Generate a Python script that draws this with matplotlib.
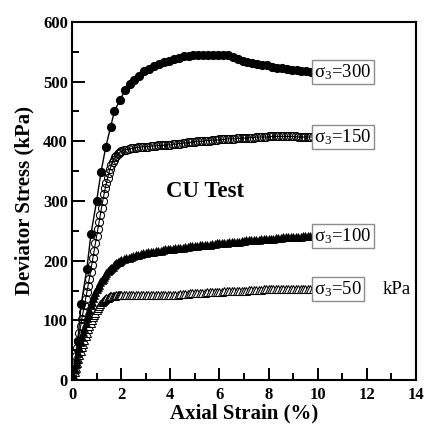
import matplotlib
matplotlib.use("Agg")
import matplotlib.pyplot as plt
from matplotlib.ticker import MultipleLocator

plt.rcParams["font.family"] = ["Liberation Serif", "DejaVu Serif"]
plt.rcParams["mathtext.fontset"] = "custom"
plt.rcParams["mathtext.rm"] = "Liberation Serif"
plt.rcParams["mathtext.it"] = "Liberation Serif:italic"
plt.rcParams["mathtext.bf"] = "Liberation Serif:bold"

# Axial strain (%) and deviator stress (kPa) for the sigma3 = 300 kPa test
strain_300 = [0.00, 0.23, 0.37, 0.60, 0.77, 1.00, 1.18, 1.37, 1.57, 1.72,
              1.95, 2.16, 2.36, 2.54, 2.74, 2.94, 3.14, 3.34, 3.54, 3.74,
              3.94, 4.14, 4.34, 4.54, 4.74, 4.94, 5.14, 5.34, 5.54, 5.74,
              5.94, 6.14, 6.34, 6.54, 6.74, 6.94, 7.14, 7.34, 7.54, 7.74,
              7.94, 8.14, 8.34, 8.54, 8.74, 8.94, 9.14, 9.34, 9.54, 9.74,
              9.85]
stress_300 = [0, 66, 127, 186, 245, 300, 349, 390, 424, 450,
              469, 486, 496, 503, 510, 517, 521, 526, 530, 533,
              535, 538, 540, 542, 543, 544, 545, 545, 545, 545,
              545, 545, 544, 541, 538, 535, 533, 531, 530, 528,
              527, 525, 523, 522, 521, 520, 519, 518, 517, 516,
              516]

# Common strain readings (%) for the other three tests
strain = [0.00, 0.05, 0.10, 0.15, 0.20, 0.25, 0.30, 0.35, 0.40, 0.45,
          0.50, 0.55, 0.60, 0.65, 0.70, 0.75, 0.80, 0.85, 0.90, 0.95,
          1.00, 1.05, 1.10, 1.15, 1.20, 1.25, 1.30, 1.35, 1.40, 1.45,
          1.50, 1.55, 1.60, 1.65, 1.70, 1.75, 1.80, 1.85, 1.90, 1.95,
          2.0, 2.1, 2.2, 2.3, 2.4, 2.5, 2.6, 2.7, 2.8, 2.9,
          3.0, 3.1, 3.2, 3.3, 3.4, 3.5, 3.6, 3.7, 3.8, 3.9,
          4.0, 4.1, 4.2, 4.3, 4.4, 4.5, 4.6, 4.7, 4.8, 4.9,
          5.0, 5.1, 5.2, 5.3, 5.4, 5.5, 5.6, 5.7, 5.8, 5.9,
          6.0, 6.1, 6.2, 6.3, 6.4, 6.5, 6.6, 6.7, 6.8, 6.9,
          7.0, 7.1, 7.2, 7.3, 7.4, 7.5, 7.6, 7.7, 7.8, 7.9,
          8.0, 8.1, 8.2, 8.3, 8.4, 8.5, 8.6, 8.7, 8.8, 8.9,
          9.0, 9.1, 9.2, 9.3, 9.4, 9.5, 9.6, 9.7, 9.8]

stress_150 = [0, 14, 27, 40, 53, 66, 79, 91, 103, 114,
              125, 136, 147, 158, 170, 181, 193, 205, 217, 229,
              241, 253, 265, 277, 289, 300, 311, 321, 330, 339,
              347, 354, 360, 365, 369, 373, 376, 378, 380, 382,
              383, 385, 386, 387, 388, 389, 389, 390, 390, 391,
              391, 391, 392, 392, 392, 393, 393, 393, 394, 394,
              394, 395, 395, 396, 396, 397, 397, 398, 398, 399,
              399, 400, 400, 400, 401, 401, 401, 402, 402, 402,
              403, 403, 403, 404, 404, 404, 404, 405, 405, 405,
              405, 406, 406, 406, 406, 407, 407, 407, 407, 407,
              408, 408, 408, 408, 408, 408, 408, 408, 408, 408,
              408, 408, 407, 407, 407, 407, 407, 407, 407]

stress_100 = [0, 9, 18, 27, 36, 45, 54, 63, 72, 80,
              88, 96, 104, 111, 118, 125, 131, 137, 142, 147,
              152, 156, 160, 164, 167, 170, 173, 176, 179, 182,
              184, 186, 188, 190, 192, 194, 196, 197, 198, 200,
              201, 202, 204, 205, 206, 208, 209, 210, 211, 212,
              213, 214, 215, 215, 216, 217, 217, 218, 219, 219,
              220, 220, 221, 221, 222, 222, 223, 223, 224, 224,
              225, 225, 226, 226, 226, 227, 227, 228, 228, 229,
              229, 229, 230, 230, 231, 231, 232, 232, 232, 233,
              233, 234, 234, 234, 235, 235, 235, 236, 236, 236,
              237, 237, 237, 238, 238, 238, 239, 239, 239, 239,
              240, 240, 240, 240, 241, 241, 241, 241, 241]

stress_50 = [0, 7, 14, 21, 28, 35, 42, 49, 55, 61,
             67, 73, 79, 85, 90, 95, 100, 105, 109, 113,
             117, 121, 124, 127, 130, 132, 134, 136, 137, 138,
             139, 140, 140, 141, 141, 141, 142, 142, 142, 142,
             142, 142, 142, 142, 142, 142, 142, 142, 142, 142,
             142, 142, 142, 142, 142, 142, 142, 142, 143, 143,
             143, 143, 143, 143, 144, 144, 144, 144, 145, 145,
             145, 145, 146, 146, 146, 147, 147, 147, 148, 148,
             148, 148, 149, 149, 149, 149, 150, 150, 150, 150,
             150, 150, 151, 151, 151, 151, 151, 151, 152, 152,
             152, 152, 152, 152, 152, 152, 152, 152, 152, 152,
             152, 152, 152, 152, 152, 152, 152, 152, 152]

confining = ["300", "150", "100", "50"]

fig = plt.figure(figsize=(4.24, 4.28), dpi=100)
ax = fig.add_axes([0.170, 0.112, 0.811, 0.837])

ax.plot(strain_300, stress_300, color="black", lw=1.0, marker="o",
        ms=5.6, mfc="black", mec="black", zorder=5)
ax.plot(strain, stress_150, color="black", lw=0.8, marker="o",
        ms=5.8, mfc="none", mec="black", mew=0.75, zorder=4)
ax.plot(strain, stress_100, color="black", lw=0.6, marker="^",
        ms=5.4, mfc="black", mec="black", mew=0.5, zorder=3)
ax.plot(strain, stress_50, color="black", lw=0.6, marker="^",
        ms=5.6, mfc="white", mec="black", mew=0.75, zorder=2)

ends = [stress_300[-1], stress_150[-1], stress_100[-1], stress_50[-1]]
for s3, yv in zip(confining, ends):
    ax.text(9.85, yv, r"σ$_{\mathrm{3}}$=" + s3, fontsize=13.5,
            ha="left", va="center", zorder=6,
            bbox=dict(boxstyle="square,pad=0.12", fc="white",
                      ec="#8c8c8c", lw=1.0))
ax.text(12.65, ends[-1], "kPa", fontsize=13.5, ha="left", va="center")

ax.text(5.4, 315, "CU Test", fontsize=16.5, fontweight="bold",
        ha="center", va="center")

ax.set_xlim(0, 14)
ax.set_ylim(0, 600)
ax.xaxis.set_major_locator(MultipleLocator(2))
ax.xaxis.set_minor_locator(MultipleLocator(1))
ax.yaxis.set_major_locator(MultipleLocator(100))
ax.yaxis.set_minor_locator(MultipleLocator(50))
ax.tick_params(which="both", direction="in", top=False, right=False,
               width=1.4, labelsize=12)
ax.tick_params(axis="x", pad=5)
ax.tick_params(axis="y", pad=3)
ax.tick_params(which="major", length=9)
ax.tick_params(which="minor", length=5)
for lab in ax.get_xticklabels() + ax.get_yticklabels():
    lab.set_fontweight("bold")
for sp in ax.spines.values():
    sp.set_linewidth(1.5)

ax.set_xlabel("Axial Strain (%)", fontsize=15, fontweight="bold", labelpad=0)
ax.set_ylabel("Deviator Stress (kPa)", fontsize=15, fontweight="bold",
              labelpad=6)

fig.savefig("out.png", dpi=100)
